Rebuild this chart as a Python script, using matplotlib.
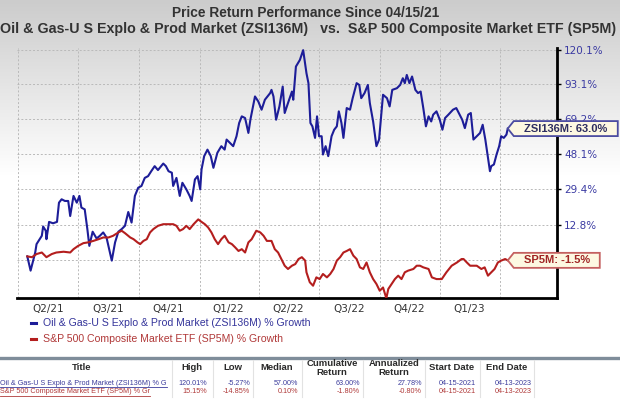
import numpy as np
import matplotlib
matplotlib.use("Agg")
import matplotlib.pyplot as plt
import matplotlib.dates as mdates
from matplotlib.patches import Polygon
from matplotlib.lines import Line2D
from matplotlib.ticker import FixedLocator, NullLocator

# ---------------- data ----------------
start_date = "2021-04-15"

zsi_days = [0, 5, 12, 14, 22, 24, 28, 29, 33, 39,
            45, 48, 52, 57, 62, 65, 70, 75, 79, 82,
            87, 91, 94, 99, 105, 110, 115, 120, 128, 133,
            138, 143, 148, 153, 158, 163, 168, 173, 178, 183,
            188, 193, 198, 206, 210, 214, 219, 221, 226, 231,
            235, 241, 246, 249, 254, 258, 262, 264, 268, 273,
            278, 282, 288, 294, 299, 302, 307, 312, 317, 321,
            325, 330, 335, 338, 343, 345, 350, 355, 360, 368,
            370, 373, 377, 382, 387, 390, 395, 401, 403, 407,
            413, 418, 423, 426, 429, 432, 436, 439, 442, 446,
            448, 452, 456, 461, 465, 469, 472, 476, 479, 484,
            489, 493, 499, 503, 506, 511, 516, 519, 524, 529,
            533, 537, 539, 545, 549, 553, 560, 565, 569, 572,
            575, 579, 583, 588, 592, 596, 600, 604, 608, 612,
            615, 620, 625, 629, 633, 638, 645, 650, 655, 659,
            663, 668, 672, 676, 681, 686, 690, 694, 698, 701,
            703, 707, 711, 715, 718, 722, 726, 728]
zsi_growth = [0.0, -5.3, 1.5, 4.8, 8.2, 12.1, 10.3, 6.8, 14.1, 13.5,
              14.1, 22.8, 24.4, 23.6, 23.6, 16.7, 26.0, 22.8, 26.0, 20.5,
              19.7, 11.0, 4.1, 9.9, 7.1, 8.2, 9.6, 7.5, -1.6, 5.5,
              9.9, 11.0, 12.4, 18.5, 13.8, 26.0, 30.0, 30.9, 35.0, 35.9,
              38.6, 41.2, 39.1, 42.6, 41.2, 38.5, 37.7, 30.9, 35.0, 26.0,
              32.5, 29.2, 26.0, 23.6, 34.2, 35.9, 29.2, 39.4, 46.7, 50.4,
              46.7, 40.3, 48.6, 52.4, 50.4, 56.3, 54.3, 52.4, 58.3, 66.5,
              70.8, 69.7, 60.3, 68.6, 79.7, 84.3, 80.8, 75.2, 82.0, 86.7,
              89.0, 84.3, 68.6, 77.4, 91.4, 73.0, 79.7, 87.8, 82.0, 106.6,
              111.9, 120.0, 101.4, 93.9, 66.5, 64.4, 57.3, 70.8, 58.3, 58.3,
              47.6, 52.4, 46.7, 58.3, 62.3, 64.4, 74.1, 66.5, 57.3, 76.3,
              75.2, 83.1, 93.9, 92.6, 83.1, 86.7, 92.6, 79.7, 67.5, 52.4,
              56.3, 75.2, 85.5, 83.1, 77.4, 89.0, 90.2, 92.6, 97.6, 93.9,
              100.1, 93.9, 98.9, 89.0, 86.7, 87.8, 76.3, 64.4, 70.8, 67.5,
              71.9, 74.1, 68.6, 62.3, 69.7, 71.9, 75.2, 76.3, 71.9, 68.6,
              63.3, 71.9, 73.0, 56.3, 58.3, 60.3, 65.4, 56.3, 45.8, 38.5,
              41.2, 42.1, 47.6, 52.4, 58.3, 57.3, 59.3, 63.0]

sp_days = [0, 7, 14, 22, 29, 37, 44, 55, 65, 70,
           77, 85, 92, 100, 108, 115, 123, 130, 138, 143,
           148, 156, 161, 167, 171, 176, 181, 186, 191, 198,
           206, 214, 221, 226, 231, 236, 241, 246, 252, 259,
           264, 269, 274, 279, 284, 289, 294, 299, 305, 310,
           315, 320, 325, 330, 335, 340, 347, 353, 358, 363,
           370, 375, 380, 385, 390, 395, 401, 406, 411, 416,
           421, 423, 428, 433, 438, 443, 448, 454, 459, 464,
           469, 474, 479, 484, 489, 494, 499, 504, 509, 514,
           519, 524, 529, 534, 539, 544, 547, 552, 557, 562,
           567, 572, 577, 585, 590, 595, 600, 608, 613, 620,
           628, 635, 643, 651, 658, 661, 666, 671, 676, 681,
           688, 693, 698, 703, 708, 713, 718, 724, 728]
sp_growth = [0.0, -0.3, 0.9, 1.5, -0.3, 0.9, 1.5, 1.8, 1.5, 2.8,
             4.1, 5.2, 5.5, 6.1, 6.8, 7.5, 7.5, 8.2, 9.6, 10.3,
             9.3, 7.5, 6.8, 5.5, 4.8, 6.1, 6.8, 9.6, 11.0, 12.4,
             13.1, 13.1, 13.1, 12.4, 10.3, 11.0, 12.4, 11.0, 13.1, 15.2,
             14.1, 13.1, 11.7, 9.6, 6.8, 4.8, 6.8, 8.2, 5.5, 4.8,
             3.5, 2.1, 2.8, 1.5, 5.5, 6.8, 10.3, 9.6, 8.2, 6.1,
             6.1, 2.8, 1.5, -1.0, -3.5, -4.7, -3.5, -2.9, -1.0, -0.3,
             -1.6, -5.9, -9.4, -10.6, -7.7, -8.3, -6.5, -7.7, -6.5, -4.7,
             -1.6, -0.3, 1.5, 2.1, 2.8, 0.3, -1.0, -4.1, -4.7, -2.3,
             -5.9, -8.3, -10.0, -12.3, -11.2, -14.8, -11.7, -10.0, -8.3, -7.1,
             -8.3, -5.9, -5.3, -4.7, -3.5, -3.5, -4.1, -4.7, -7.7, -8.3,
             -8.3, -5.9, -3.5, -2.3, -1.0, -1.0, -2.3, -3.5, -3.5, -3.5,
             -4.7, -4.1, -7.1, -5.9, -4.7, -2.3, -1.6, -1.0, -1.5]

y_tick_values = [120.1, 93.1, 69.2, 48.1, 29.4, 12.8, -1.3]
quarter_labels = ["Q2/21", "Q3/21", "Q4/21", "Q1/22", "Q2/22", "Q3/22", "Q4/22", "Q1/23"]
quarter_mids = ["2021-05-16", "2021-08-15", "2021-11-15", "2022-02-14",
                "2022-05-16", "2022-08-15", "2022-11-15", "2023-02-14"]
quarter_starts = ["2021-04-01", "2021-07-01", "2021-10-01", "2022-01-01", "2022-04-01",
                  "2022-07-01", "2022-10-01", "2023-01-01", "2023-04-01"]

title_line1 = "Price Return Performance Since 04/15/21"
title_line2 = "Oil & Gas-U S Explo & Prod Market (ZSI136M)   vs.  S&P 500 Composite Market ETF (SP5M)"
zsi_short, sp_short = "ZSI136M", "SP5M"
legend_labels = ["Oil & Gas-U S Explo & Prod Market (ZSI136M) % Growth",
                 "S&P 500 Composite Market ETF (SP5M) % Growth"]

table_headers = ["Title", "High", "Low", "Median", "Cumulative\nReturn",
                 "Annualized\nReturn", "Start Date", "End Date"]
table_titles = ["Oil & Gas-U S Explo & Prod Market (ZSI136M) % G",
                "S&P 500 Composite Market ETF (SP5M) % Gr"]
zsi_stats = ["120.01%", "-5.27%", "57.00%", "63.00%", "27.78%", "04-15-2021", "04-13-2023"]
sp_stats = ["15.15%", "-14.85%", "0.10%", "-1.80%", "-0.80%", "04-15-2021", "04-13-2023"]

# ---------------- styling ----------------
W, H = 620, 405
BLUE = "#1d1d98"
RED = "#b41e1e"
NAVY_TXT = "#34349a"
RED_TXT = "#b03838"
SANS = ["Liberation Sans", "DejaVu Sans"]
AXF = ["DejaVu Sans"]

fig = plt.figure(figsize=(W / 100, H / 100), dpi=100)


def fpos(x, y):
    return x / W, 1 - y / H


# background gradient
bg = fig.add_axes([0, 0, 1, 1], zorder=-10)
rows = np.linspace(0, 1, 405)
g = np.clip(rows / (175 / 405), 0, 1)
top = np.array([0.80, 0.80, 0.80])
col = top[None, :] + (1 - top)[None, :] * g[:, None]
img = np.repeat(col[:, None, :], 2, axis=1)
bg.imshow(img, aspect="auto", extent=[0, 1, 0, 1], origin="upper")
bg.set_axis_off()

# main axes
ax = fig.add_axes([17 / W, 1 - 298.3 / H, 540 / W, 250.3 / H])
ax.set_facecolor("none")

base = np.datetime64(start_date)
xz = base + np.array(zsi_days).astype("timedelta64[D]")
xs = base + np.array(sp_days).astype("timedelta64[D]")
fz = 1 + np.array(zsi_growth) / 100
fs = 1 + np.array(sp_growth) / 100

ax.plot(xz, fz, color=BLUE, lw=1.5, zorder=3, solid_joinstyle="round")
ax.plot(xs, fs, color=RED, lw=1.5, zorder=3, solid_joinstyle="round")

ax.set_yscale("log")
ax.set_ylim(0.852, 2.218)
b0 = mdates.date2num(base)
ax.set_xlim(b0 - 15.6, b0 + 802.6)

yt = 1 + np.array(y_tick_values) / 100
ax.yaxis.set_major_locator(FixedLocator(yt))
ax.yaxis.set_minor_locator(NullLocator())
ax.set_yticklabels([f"{v:.1f}%" for v in y_tick_values])
ax.yaxis.tick_right()
ax.tick_params(axis="y", which="major", length=3, width=1, color="black",
               labelcolor="#3a3aa2", labelsize=7.5, pad=2)

ax.set_xticks([mdates.date2num(np.datetime64(d)) for d in quarter_mids])
ax.set_xticklabels(quarter_labels)
ax.set_xticks([mdates.date2num(np.datetime64(d)) for d in quarter_starts], minor=True)
ax.tick_params(axis="x", which="both", length=0, labelsize=7.5, labelcolor="#333333", pad=4)
for lab in ax.get_xticklabels() + ax.get_yticklabels():
    lab.set_fontfamily(AXF)

gkw = dict(color="#b9b9b9", lw=0.7, ls=(0, (2, 2)))
ax.grid(which="minor", axis="x", **gkw)
ax.grid(which="major", axis="y", **gkw)
ax.grid(which="major", axis="x", visible=False)

for s in ("left", "top"):
    ax.spines[s].set_visible(False)
for s in ("bottom", "right"):
    ax.spines[s].set_color("black")
    ax.spines[s].set_linewidth(2)

# titles
renderer = fig.canvas.get_renderer()


def fit(t, target):
    w = t.get_window_extent(renderer).width
    t.set_fontsize(t.get_fontsize() * target / w)


t1 = fig.text(*fpos(306, 13.3), title_line1, ha="center", va="center",
              fontsize=10, fontweight="bold", color="#333333", family=SANS)
t2 = fig.text(*fpos(308.5, 28.5), title_line2, ha="center", va="center",
              fontsize=10, fontweight="bold", color="#333333", family=SANS)
fit(t1, 267)
fit(t2, 612)

# end-value tags
fig.canvas.draw()


def tag(xd, fval, text, edge, tcolor, width):
    px, py = ax.transData.transform((mdates.date2num(xd), fval))
    hh = 7.5
    pts = [(px, py), (px + 6, py + hh), (px + width, py + hh),
           (px + width, py - hh), (px + 6, py - hh)]
    poly = Polygon(pts, closed=True, transform=None, facecolor="#fdf8e2",
                   edgecolor=edge, lw=1.3, zorder=20)
    fig.add_artist(poly)
    fig.text((px + (6 + width) / 2) / W, py / H, text, ha="center", va="center",
             fontsize=8, fontweight="bold", color=tcolor, family=SANS, zorder=21)


tag(xz[-1], fz[-1], f"{zsi_short}: {zsi_growth[-1]:.1f}%", "#4c4ca0", "#2e2e60", 110)
tag(xs[-1], fs[-1], f"{sp_short}: {sp_growth[-1]:.1f}%", "#c46060", "#a02424", 92)

# legend
leg_y = [323.3, 339.3]
leg_cols = [(BLUE, NAVY_TXT), (RED, RED_TXT)]
lt = []
for yy, lab, (lc, tc) in zip(leg_y, legend_labels, leg_cols):
    fig.add_artist(Line2D([31 / W, 36 / W], [1 - yy / H] * 2, color=lc, lw=2.2))
    lt.append(fig.text(*fpos(43, yy), lab, ha="left", va="center", fontsize=9,
                       color=tc, family=SANS))
fit(lt[0], 269)
lt[1].set_fontsize(lt[0].get_fontsize())

# table
fig.add_artist(Line2D([0, 1], [1 - 357.7 / H] * 2, color="#7f8d9a", lw=2.4))
for xx in [172, 213, 253, 302, 363, 425, 480, 534]:
    fig.add_artist(Line2D([xx / W] * 2, [1 - 360 / H, 1 - 397 / H], color="#e2e2e2", lw=0.8))
hdr_x = [82, 192, 233, 277, 332, 394, 452, 507]
for xx, h in zip(hdr_x, table_headers):
    fig.text(*fpos(xx, 368), h, ha="center", va="center", fontsize=6.8,
             fontweight="bold", color="#2a2a2a", family=SANS, linespacing=0.95)

val_x = [207, 250, 298, 360, 422, 476, 532]
row_y = [383.3, 391.7]
row_c = ["#3c3c9c", "#b03a3a"]
for yy, ttl, stats, cc in zip(row_y, table_titles, [zsi_stats, sp_stats], row_c):
    tt = fig.text(*fpos(0, yy), ttl, ha="left", va="center", fontsize=5.2,
                  color=cc, family=SANS)
    ext = tt.get_window_extent(renderer)
    fig.add_artist(Line2D([0, ext.x1 / W], [(ext.y0 - 0.5) / H] * 2, color=cc, lw=0.6))
    for xx, s in zip(val_x, stats):
        fig.text(*fpos(xx, yy), s, ha="right", va="center", fontsize=5.2,
                 color=cc, family=SANS)

fig.savefig("out.png", dpi=100)
